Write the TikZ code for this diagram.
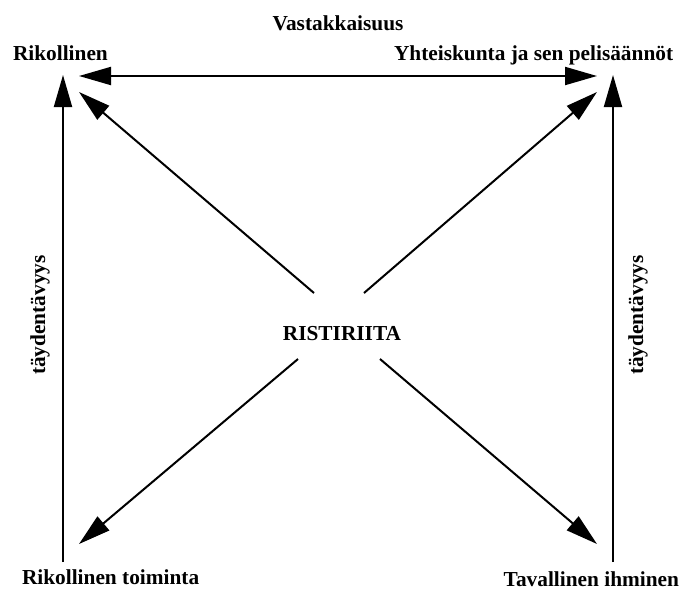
\documentclass[tikz,border=0pt]{standalone}
\usepackage{fontspec}
\setmainfont{Liberation Serif}
\usetikzlibrary{arrows.meta}
\newcommand{\lbl}{\fontsize{16}{19}\selectfont\bfseries}

\begin{document}
\begin{tikzpicture}[>={Triangle[length=24pt,width=13.5pt]},x=0.75pt,y=-0.75pt,
                    line width=1.5pt,every node/.style={font=\lbl,inner sep=0pt}]
  \useasboundingbox (0,0) rectangle (682,593);

  \node[anchor=base]      (V)  at (338,30)  {Vastakkaisuus};
  \node[anchor=base west] (R)  at (12,60)   {Rikollinen};
  \node[anchor=base west] (Y)  at (393,60)  {Yhteiskunta ja sen pelisäännöt};
  \node[anchor=base]      (X)  at (342,340) {RISTIRIITA};
  \node[anchor=base west] (T)  at (21,584)  {Rikollinen toiminta};
  \node[anchor=base east] (I)  at (680,586) {Tavallinen ihminen};
  \node[rotate=90]        (L1) at (40,315)  {täydentävyys};
  \node[rotate=90]        (L2) at (638,315) {täydentävyys};

  % arrow ends
  \coordinate (Rh) at (79,76);   \coordinate (Yh) at (597,76);
  \coordinate (Rv) at (63,75);   \coordinate (Yv) at (613,75);
  \coordinate (Tv) at (63,562);  \coordinate (Iv) at (613,562);
  \coordinate (Rd) at (79,92);   \coordinate (Yd) at (597,92);
  \coordinate (Td) at (79,544);  \coordinate (Id) at (597,544);
  \coordinate (Xa) at (314,293); \coordinate (Xb) at (364,293);
  \coordinate (Xc) at (298,359); \coordinate (Xd) at (380,359);

  \draw[<->] (Rh) -- (Yh);
  \draw[->]  (Tv) -- (Rv);
  \draw[->]  (Iv) -- (Yv);
  \draw[->]  (Xa) -- (Rd);
  \draw[->]  (Xb) -- (Yd);
  \draw[->]  (Xc) -- (Td);
  \draw[->]  (Xd) -- (Id);
\end{tikzpicture}
\end{document}
